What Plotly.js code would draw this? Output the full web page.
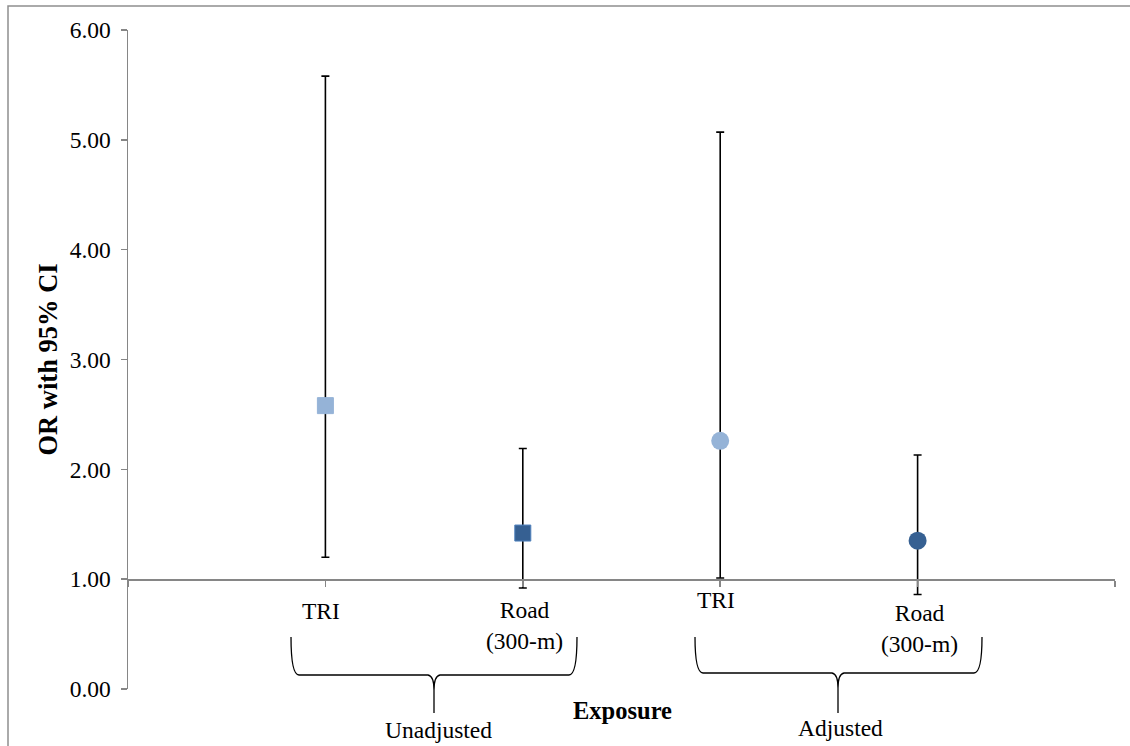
<!DOCTYPE html>
<html>
<head>
<meta charset="utf-8">
<script src="https://cdn.plot.ly/plotly-3.0.1.min.js"></script>
<style>
html,body{margin:0;padding:0;background:#fff;}
#chart{width:1130px;height:746px;}
</style>
</head>
<body>
<div id="chart"></div>
<script>
// ---- data ----
const exposureLabels = ['TRI', 'Road<br>(300-m)'];
const groupLabels = ['Unadjusted', 'Adjusted'];

const unadjustedOR    = [2.58, 1.42];
const unadjustedLower = [1.20, 0.92];
const unadjustedUpper = [5.58, 2.19];

const adjustedOR    = [2.26, 1.35];
const adjustedLower = [1.01, 0.86];
const adjustedUpper = [5.07, 2.13];

const yTickVals = [0, 1, 2, 3, 4, 5, 6];

// ---- layout helpers ----
const W = 1130, H = 746;
const M = {l: 128, r: 15, t: 30, b: 57};
const PW = W - M.l - M.r, PH = H - M.t - M.b;
const px = x => (x - M.l) / PW;
const py = y => (H - M.b - y) / PH;
const FONT = '"Liberation Serif", "Times New Roman", serif';

// x slot for each point: unadjusted then adjusted
const unadjX = exposureLabels.map((_, i) => i + 1);
const adjX = exposureLabels.map((_, i) => exposureLabels.length + i + 1);

const diff = (a, b) => a.map((v, i) => v - b[i]);

const traces = [
  {
    type: 'scatter', mode: 'markers', name: groupLabels[0],
    x: unadjX, y: unadjustedOR,
    marker: {symbol: 'square', size: 16, color: ['#95B3D7', '#366092'],
             line: {width: 1, color: ['#95B3D7', '#4F81BD']}},
    error_y: {type: 'data', symmetric: false,
              array: diff(unadjustedUpper, unadjustedOR),
              arrayminus: diff(unadjustedOR, unadjustedLower),
              color: '#000', thickness: 1.6, width: 4},
    cliponaxis: false, hoverinfo: 'y'
  },
  {
    type: 'scatter', mode: 'markers', name: groupLabels[1],
    x: adjX, y: adjustedOR,
    marker: {symbol: 'circle', size: 18, color: ['#95B3D7', '#366092'],
             line: {width: 0}},
    error_y: {type: 'data', symmetric: false,
              array: diff(adjustedUpper, adjustedOR),
              arrayminus: diff(adjustedOR, adjustedLower),
              color: '#000', thickness: 1.6, width: 4},
    cliponaxis: false, hoverinfo: 'y'
  }
];

// brace path in pixel coords -> paper
function brace(xl, xr, xc, ytop, yh, ytip) {
  const P = (x, y) => px(x).toFixed(5) + ',' + py(y).toFixed(5);
  return 'M' + P(xl, ytop) + ' Q' + P(xl, yh) + ' ' + P(xl + 8, yh) +
         ' L' + P(xc - 6, yh) + ' Q' + P(xc, yh + 1) + ' ' + P(xc, yh + 15) +
         ' L' + P(xc, ytip) +
         ' M' + P(xc, yh + 15) + ' Q' + P(xc, yh + 1) + ' ' + P(xc + 6, yh) +
         ' L' + P(xr - 8, yh) + ' Q' + P(xr, yh) + ' ' + P(xr, ytop);
}

const shapes = [
  {type: 'rect', xref: 'paper', yref: 'paper', layer: 'below',
   x0: px(8), x1: px(1140), y0: py(6), y1: py(760),
   line: {color: '#8E8E8E', width: 1.5}},
  {type: 'path', xref: 'paper', yref: 'paper', path: brace(291, 577, 434, 637, 675, 713),
   line: {color: '#000', width: 1.3}},
  {type: 'path', xref: 'paper', yref: 'paper', path: brace(695, 982, 838, 637, 673, 713),
   line: {color: '#000', width: 1.3}}
];

const labelFont = {family: FONT, size: 23.5, color: '#000'};
const annotations = [];
const tickLabelY = [[611, 625], [600, 628]];
[unadjX, adjX].forEach((xs, g) => {
  xs.forEach((xv, i) => {
    annotations.push({xref: 'x', yref: 'paper', x: xv + (i === 0 ? -0.02 : 0.01),
      y: py(tickLabelY[g][i]), text: exposureLabels[i], showarrow: false,
      xanchor: 'center', yanchor: 'middle', font: labelFont});
  });
});
annotations.push({xref: 'paper', yref: 'paper', x: px(438), y: py(730), text: groupLabels[0],
  showarrow: false, xanchor: 'center', yanchor: 'middle', font: labelFont});
annotations.push({xref: 'paper', yref: 'paper', x: px(840), y: py(728), text: groupLabels[1],
  showarrow: false, xanchor: 'center', yanchor: 'middle', font: labelFont});
annotations.push({xref: 'paper', yref: 'paper', x: px(622), y: py(710), text: '<b>Exposure</b>',
  showarrow: false, xanchor: 'center', yanchor: 'middle',
  font: {family: FONT, size: 24.5, color: '#000'}});

const layout = {
  width: W, height: H,
  margin: M,
  paper_bgcolor: '#fff', plot_bgcolor: '#fff',
  showlegend: false,
  font: {family: FONT, size: 23.5, color: '#000'},
  xaxis: {
    range: [0, exposureLabels.length * 2 + 1],
    anchor: 'free', position: 1 / 6,
    showgrid: false, zeroline: false,
    showline: true, linecolor: '#868686', linewidth: 1.5,
    ticks: 'outside', ticklen: 6, tickwidth: 1.5, tickcolor: '#868686',
    tickmode: 'array', tickvals: [0, 1, 2, 3, 4, 5],
    showticklabels: false, fixedrange: true
  },
  yaxis: {
    range: [0, 6],
    tickmode: 'array', tickvals: yTickVals, tickformat: '.2f',
    showgrid: false, zeroline: false,
    showline: true, linecolor: '#868686', linewidth: 1.5,
    ticks: 'outside', ticklen: 6, tickwidth: 1.5, tickcolor: '#868686',
    ticklabelstandoff: 5,
    tickfont: {family: FONT, size: 23.5, color: '#000'},
    title: {text: '<b>OR with 95% CI</b>', font: {family: FONT, size: 26.5, color: '#000'}, standoff: 4},
    fixedrange: true
  },
  shapes: shapes,
  annotations: annotations
};

Plotly.newPlot('chart', traces, layout, {displayModeBar: false, staticPlot: true});
</script>
</body>
</html>
